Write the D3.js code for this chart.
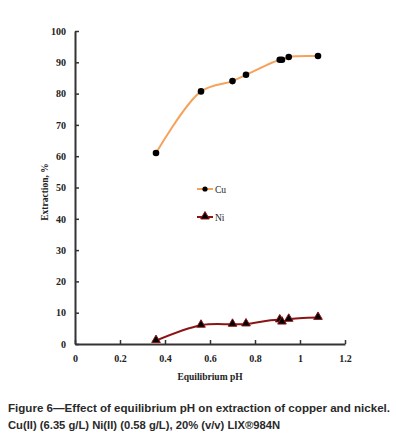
<!DOCTYPE html>
<html><head><meta charset="utf-8">
<script src="https://cdn.jsdelivr.net/npm/d3@7"></script>
<style>body{margin:0;background:#fff}svg{display:block}</style>
</head><body>
<script>
const pH = [0.36, 0.56, 0.70, 0.76, 0.91, 0.92, 0.95, 1.08];
const cu = [61.0, 80.7, 84.0, 86.0, 90.8, 90.8, 91.7, 92.0];
const phNi = [0.36, 0.56, 0.70, 0.76, 0.91, 0.92, 0.95, 1.08];
const ni = [1.1, 6.0, 6.3, 6.4, 7.7, 7.0, 7.9, 8.5];
const xTicks = [0, 0.2, 0.4, 0.6, 0.8, 1, 1.2];
const yTicks = [0, 10, 20, 30, 40, 50, 60, 70, 80, 90, 100];

const W = 396, H = 440;
const svg = d3.select("body").append("svg").attr("width", W).attr("height", H);
const x = d3.scaleLinear().domain([0, 1.2]).range([75, 345]);
const y = d3.scaleLinear().domain([0, 100]).range([344, 31]);
const serif = "'Liberation Serif','Times New Roman',serif";
const axisCol = "#333";

// axes
const gx = svg.append("g").attr("transform", `translate(0,${y(0)})`)
  .call(d3.axisBottom(x).tickValues(xTicks).tickSizeInner(-4).tickSizeOuter(0).tickPadding(11).tickFormat(d => d));
const gy = svg.append("g").attr("transform", `translate(${x(0)},0)`)
  .call(d3.axisLeft(y).tickValues(yTicks).tickSizeInner(-4).tickSizeOuter(0).tickPadding(9));
[gx, gy].forEach(g => {
  g.select(".domain").attr("stroke", axisCol).attr("stroke-width", 2);
  g.selectAll(".tick line").attr("stroke", axisCol).attr("stroke-width", 1.5);
  g.selectAll("text").attr("font-family", serif).attr("font-weight", "bold").attr("font-size", 10).attr("fill", "#222");
});

// axis titles
svg.append("text").attr("x", 210).attr("y", 380).attr("text-anchor", "middle")
  .attr("font-family", serif).attr("font-weight", "bold").attr("font-size", 9.5).attr("fill", "#222").text("Equilibrium pH");
svg.append("text").attr("transform", "translate(48,192) rotate(-90)").attr("text-anchor", "middle")
  .attr("font-family", serif).attr("font-weight", "bold").attr("font-size", 9.5).attr("fill", "#222").text("Extraction, %");

const cuCol = "#F5A25A", niCol = "#8B1414";
const line = d3.line().x(d => x(d[0])).y(d => y(d[1])).curve(d3.curveCatmullRom.alpha(0.5));
const cuData = pH.map((p, i) => [p, cu[i]]);
const niData = phNi.map((p, i) => [p, ni[i]]);

svg.append("path").datum(cuData).attr("d", line).attr("fill", "none").attr("stroke", cuCol).attr("stroke-width", 2);
svg.append("path").datum(niData).attr("d", line).attr("fill", "none").attr("stroke", niCol).attr("stroke-width", 2);

const tri = d3.symbol().type(d3.symbolTriangle).size(32);
svg.selectAll(".cu").data(cuData).enter().append("circle")
  .attr("cx", d => x(d[0])).attr("cy", d => y(d[1])).attr("r", 3.3).attr("fill", "#000");
svg.selectAll(".ni").data(niData).enter().append("path")
  .attr("d", tri).attr("transform", d => `translate(${x(d[0])},${y(d[1]) - 0.5})`)
  .attr("fill", "#000").attr("stroke", niCol).attr("stroke-width", 1);

// legend
const leg = [{name: "Cu", col: cuCol, y: 189, m: "c"}, {name: "Ni", col: niCol, y: 217, m: "t"}];
leg.forEach(l => {
  svg.append("line").attr("x1", 197).attr("x2", 213).attr("y1", l.y).attr("y2", l.y).attr("stroke", l.col).attr("stroke-width", 2);
  if (l.m === "c") svg.append("circle").attr("cx", 205).attr("cy", l.y).attr("r", 2.6).attr("fill", "#000");
  else svg.append("path").attr("d", tri).attr("transform", `translate(205,${l.y - 0.5})`).attr("fill", "#000").attr("stroke", niCol);
  svg.append("text").attr("x", 215).attr("y", l.y + 3.5).attr("font-family", serif).attr("font-size", 9.5).attr("fill", "#222").text(l.name);
});

// caption
const sans = "'Liberation Sans',Arial,Helvetica,sans-serif";
svg.append("text").attr("x", 8).attr("y", 412).attr("font-family", sans).attr("font-weight", "bold").attr("font-size", 11)
  .attr("fill", "#2a2a2a").attr("textLength", 382).attr("lengthAdjust", "spacingAndGlyphs")
  .text("Figure 6\u2014Effect of equilibrium pH on extraction of copper and nickel.");
svg.append("text").attr("x", 8).attr("y", 429).attr("font-family", sans).attr("font-weight", "bold").attr("font-size", 11)
  .attr("fill", "#2a2a2a").attr("textLength", 272).attr("lengthAdjust", "spacingAndGlyphs")
  .text("Cu(II) (6.35 g/L) Ni(II) (0.58  g/L), 20% (v/v) LIX\u00AE984N");
</script>
</body></html>
